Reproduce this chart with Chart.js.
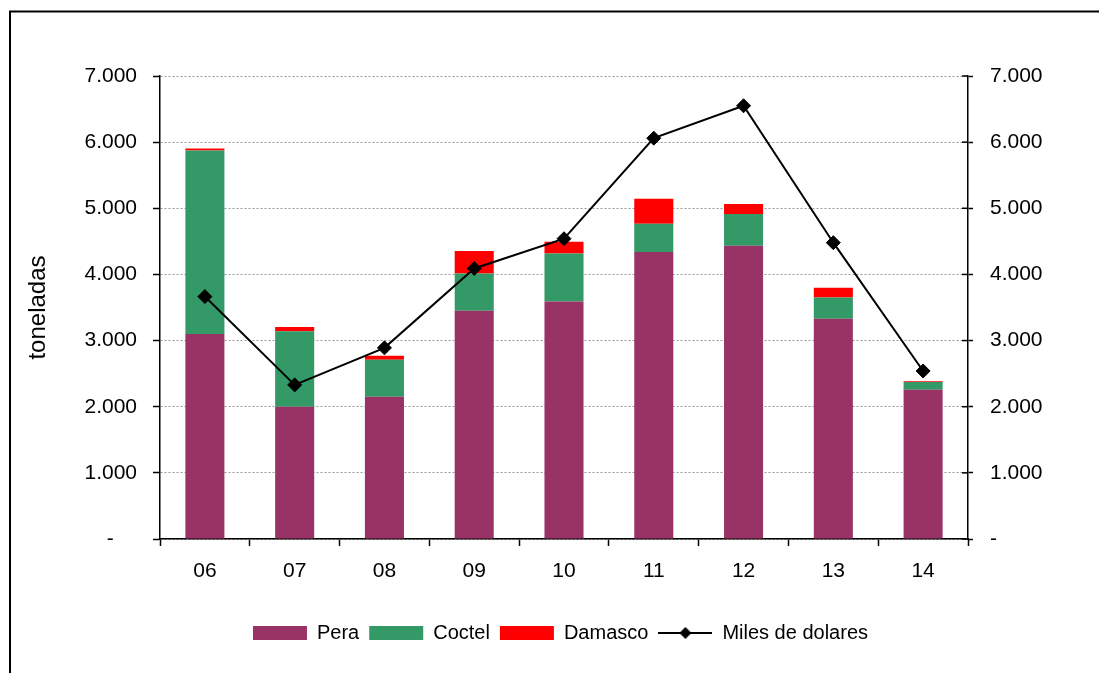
<!DOCTYPE html>
<html>
<head>
<meta charset="utf-8">
<script src="https://cdn.jsdelivr.net/npm/chart.js@4/dist/chart.umd.min.js"></script>
<style>
  body { margin: 0; background: #fff; overflow: hidden; }
</style>
</head>
<body>
<canvas id="myChart" width="1099" height="673"></canvas>
<script>
let years = ['06', '07', '08', '09', '10', '11', '12', '13', '14'];
let pera = [3100, 2000, 2150, 3450, 3590, 4340, 4435, 3330, 2255];
let coctel = [2775, 1140, 560, 565, 725, 425, 480, 320, 120];
let damasco = [30, 65, 60, 340, 180, 380, 150, 150, 10];
let milesDolares = [3665, 2330, 2890, 4090, 4540, 6060, 6550, 4480, 2540];
let yTicks = [0, 1000, 2000, 3000, 4000, 5000, 6000, 7000];

let font = 'Liberation Sans, Arial, sans-serif';

function fmt(v) {
  return String(v).replace(/\B(?=(\d{3})+(?!\d))/g, '.');
}

// little picture for the line entry in the legend
function lineIcon() {
  let c = document.createElement('canvas');
  c.width = 54;
  c.height = 14;
  let g = c.getContext('2d');
  g.strokeStyle = '#000';
  g.lineWidth = 2;
  g.beginPath();
  g.moveTo(0, 7);
  g.lineTo(54, 7);
  g.stroke();
  g.fillStyle = '#000';
  g.beginPath();
  g.moveTo(27, 1);
  g.lineTo(33, 7);
  g.lineTo(27, 13);
  g.lineTo(21, 7);
  g.closePath();
  g.fill();
  return c;
}

let framePlugin = {
  id: 'frame',
  beforeDraw(chart) {
    let ctx = chart.ctx;
    ctx.save();
    ctx.strokeStyle = '#000';
    ctx.lineWidth = 2;
    ctx.strokeRect(10, 11.5, 1200, 800);
    ctx.restore();
  }
};

// right axis ticks cross the axis line
let crossTicks = {
  id: 'crossTicks',
  afterDraw(chart) {
    let s = chart.scales.y2;
    let ctx = chart.ctx;
    ctx.save();
    ctx.strokeStyle = '#000';
    ctx.lineWidth = 1.5;
    s.ticks.forEach(function (t, i) {
      let y = s.getPixelForTick(i);
      ctx.beginPath();
      ctx.moveTo(s.left - 6, y);
      ctx.lineTo(s.left, y);
      ctx.stroke();
    });
    ctx.restore();
  }
};

window.onload = function () {
  let ctx = document.getElementById('myChart').getContext('2d');

  window.myChart = new Chart(ctx, {
    type: 'bar',
    data: {
      labels: years,
      datasets: [
        { label: 'Pera', data: pera, backgroundColor: '#993366', borderWidth: 0, order: 1, pointStyle: 'rect', barPercentage: 0.435, categoryPercentage: 1 },
        { label: 'Coctel', data: coctel, backgroundColor: '#339966', borderWidth: 0, order: 1, pointStyle: 'rect', barPercentage: 0.435, categoryPercentage: 1 },
        { label: 'Damasco', data: damasco, backgroundColor: '#ff0000', borderWidth: 0, order: 1, pointStyle: 'rect', barPercentage: 0.435, categoryPercentage: 1 },
        {
          type: 'line', label: 'Miles de dolares', data: milesDolares, yAxisID: 'y2', order: 0,
          borderColor: '#000', backgroundColor: '#000', borderWidth: 2,
          pointStyle: 'rectRot', pointRadius: 7, pointBorderWidth: 1, tension: 0
        }
      ]
    },
    options: {
      responsive: false,
      animation: false,
      layout: { padding: { left: 22, right: 0, top: 76, bottom: 20 } },
      plugins: {
        tooltip: { enabled: false },
        legend: {
          position: 'bottom',
          labels: {
            usePointStyle: true,
            pointStyleWidth: 54,
            boxHeight: 14,
            padding: 10,
            color: '#000',
            font: { family: font, size: 20 },
            generateLabels(chart) {
              let items = Chart.defaults.plugins.legend.labels.generateLabels(chart);
              items.sort((a, b) => a.datasetIndex - b.datasetIndex);
              items.forEach(function (it) {
                if (it.datasetIndex === 3) it.pointStyle = lineIcon();
                else it.lineWidth = 0;
              });
              return items;
            }
          }
        }
      },
      scales: {
        x: {
          stacked: true,
          afterFit(s) { s.height = 74; },
          grid: { drawOnChartArea: false, tickLength: 7, tickColor: '#000', tickWidth: 1.5, offset: true },
          border: { color: '#000', width: 1.5 },
          ticks: { color: '#000', padding: 13, font: { family: font, size: 21 } }
        },
        y: {
          stacked: true,
          min: 0,
          max: 7000,
          afterFit(s) { s.width = 138; },
          afterBuildTicks(s) { s.ticks = yTicks.map(v => ({ value: v })); },
          title: { display: true, text: 'toneladas', color: '#000', padding: { top: 2, bottom: 0 }, font: { family: font, size: 24 } },
          grid: { color: '#999', lineWidth: 1, tickLength: 7, tickColor: '#000', tickWidth: 1.5 },
          border: { color: '#000', width: 1.5, dash: [2, 2] },
          ticks: {
            color: '#000', padding: 16, font: { family: font, size: 21 },
            callback: v => v === 0 ? '-    ' : fmt(v)
          }
        },
        y2: {
          position: 'right',
          min: 0,
          max: 7000,
          afterFit(s) { s.width = 131; },
          afterBuildTicks(s) { s.ticks = yTicks.map(v => ({ value: v })); },
          grid: { drawOnChartArea: false, tickLength: 5, tickColor: '#000', tickWidth: 1.5 },
          border: { color: '#000', width: 1.5 },
          ticks: {
            color: '#000', padding: 17, font: { family: font, size: 21 },
            callback: v => v === 0 ? '-' : fmt(v)
          }
        }
      }
    },
    plugins: [framePlugin, crossTicks]
  });
};
</script>
</body>
</html>
